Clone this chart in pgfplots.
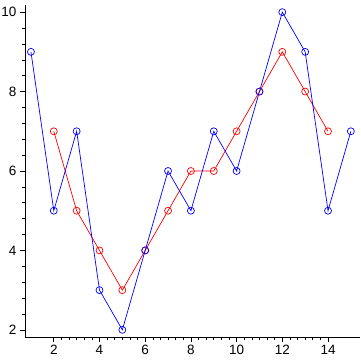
\documentclass[border=0pt]{standalone}
\usepackage{fontspec}
\setmainfont{Liberation Sans}
\usepackage{pgfplots}
\pgfplotsset{compat=1.18}
\begin{document}
\begin{tikzpicture}
\path[use as bounding box] (0,0) rectangle (361pt,361pt);
\begin{axis}[
  at={(25pt,24pt)}, anchor=origin,
  scale only axis, width=335pt, height=332pt,
  xmin=0.74, xmax=15.4, ymin=1.82, ymax=10.18,
  axis lines*=left,
  axis line style={line width=0.8pt},
  xtick={2,4,...,14}, ytick={2,4,...,10},
  minor x tick num=5, minor y tick num=4,
  tick align=outside,
  major tick length=5pt, minor tick length=3pt,
  every tick/.style={black, line width=0.6pt},
  tick label style={font=\fontsize{13.5}{14}\selectfont},
  /pgf/number format/assume math mode=true,
  clip=false,
]
\addplot[red, line width=0.7pt, mark=o, mark size=3.5pt, mark options={line width=0.7pt}]
coordinates {(2,7)(3,5)(4,4)(5,3)(6,4)(7,5)(8,6)(9,6)(10,7)(11,8)(12,9)(13,8)(14,7)};
\addplot[blue, line width=0.7pt, mark=o, mark size=3.5pt, mark options={line width=0.7pt}]
coordinates {(1,9)(2,5)(3,7)(4,3)(5,2)(6,4)(7,6)(8,5)(9,7)(10,6)(11,8)(12,10)(13,9)(14,5)(15,7)};
\end{axis}
\end{tikzpicture}
\end{document}
